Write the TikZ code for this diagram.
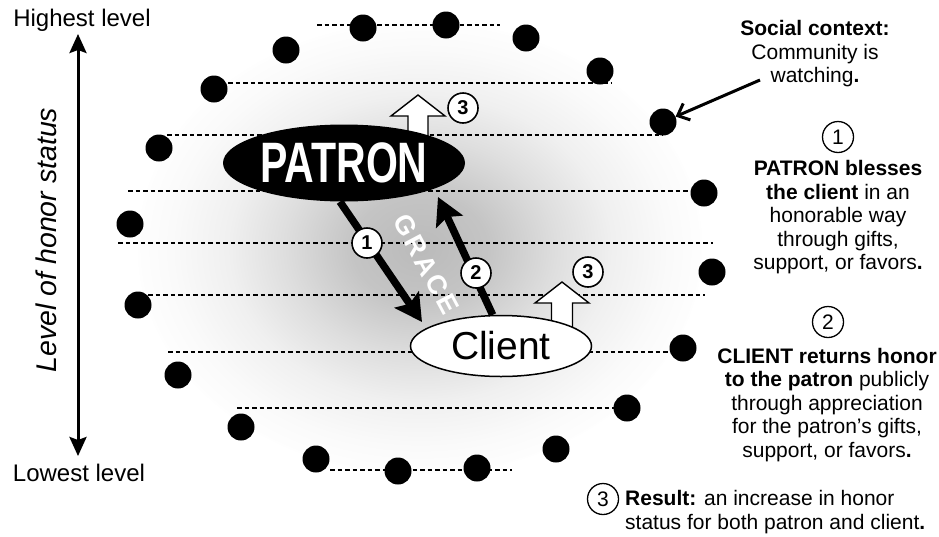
\documentclass[tikz,border=0pt]{standalone}
\usepackage{fontspec}
\setmainfont{Liberation Sans}
\usetikzlibrary{arrows.meta,shapes.geometric}
\pgfdeclareradialshading{halo}{\pgfpoint{0bp}{0bp}}{color(0bp)=(black!27); color(6bp)=(black!23); color(12bp)=(black!13); color(17bp)=(black!6); color(22bp)=(black!2); color(25bp)=(black!0.5); color(50bp)=(black!0.5)}
\begin{document}
\begin{tikzpicture}[x=1pt,y=-1pt,
  dot/.style={circle,fill=black,minimum size=27pt,inner sep=0pt},
  levline/.style={line width=1.4pt,dash pattern=on 4.5pt off 3pt},
  numc/.style={circle,draw=black,line width=1.6pt,fill=white,minimum size=30pt,inner sep=0pt,font=\fontsize{20}{20}\selectfont\bfseries},
  numr/.style={circle,draw=black,line width=1.3pt,fill=white,minimum size=31pt,inner sep=0pt,font=\fontsize{21}{21}\selectfont},
  uparrow/.style={draw=black,line width=1.4pt,fill=white,line join=miter},
  bigarrow/.style={line width=7.5pt,-{Stealth[length=27pt,width=29pt,inset=5pt]}},
  txt/.style={align=center,font=\fontsize{21}{23.5}\selectfont,inner sep=0pt}
]
\useasboundingbox (0,0) rectangle (939,536);
\fill[white] (0,0) rectangle (939,536);
\shade[shading=halo] (420,248) ellipse [x radius=282pt, y radius=226pt];

% level lines
\foreach \y/\a/\b in {25/317/500, 83/228/612, 135/167/663, 191/128/704, 243/118/713, 295/133/705, 352/168/683, 408/237/627, 470/330/512}
  \draw[levline] (\a,\y) -- (\b,\y);

% community dots
\foreach \i/\x/\y in {1/363/28, 2/446/25, 3/526/38, 4/600/71, 5/663/122, 6/704/193, 7/712/272, 8/683/348, 9/627/408, 10/556/449, 11/477/468, 12/398/471, 13/316/459, 14/241/427, 15/178/375, 16/138/305, 17/130/224, 18/159/148, 19/214/89, 20/286/50}
  \node[dot] (d\i) at (\x,\y) {};

% white up arrows (result)
\draw[uparrow] (408,160) -- (408,116) -- (391,116) -- (418,95) -- (445,116) -- (428,116) -- (428,160) -- cycle;
\draw[uparrow] (551.5,340) -- (551.5,303) -- (535,303) -- (562,282) -- (589,303) -- (572.5,303) -- (572.5,340) -- cycle;

% patron and client
\node[ellipse, fill=black, minimum width=242pt, minimum height=77pt, inner sep=0pt, text=white, font=\fontsize{57}{57}\selectfont\bfseries] (patron) at (344,163) {\scalebox{0.72}[1]{PATRON}};
\node[ellipse, draw=black, line width=1.5pt, fill=white, minimum width=181pt, minimum height=61pt, inner sep=0pt, font=\fontsize{39}{39}\selectfont] (client) at (501,346) {Client};

% grace arrows
\coordinate (a1) at (422,322);
\coordinate (a2) at (438,197);
\draw[bigarrow] (patron.-96) -- (a1);
\draw[bigarrow] (client.105) -- (a2);
\node[rotate=-62, text=white, font=\fontsize{27}{27}\selectfont\bfseries, inner sep=0pt] (grace) at (426,264) {G\kern3pt R\kern3pt A\kern3pt C\kern3pt E};

\node[numc] (n1) at (367,243) {1};
\node[numc] (n2) at (476,273) {2};
\node[numc] (n3a) at (463,108) {3};
\node[numc] (n3b) at (588,272) {3};

% left scale
\node[font=\fontsize{24}{24}\selectfont] (hi) at (82,20) {Highest level};
\node[font=\fontsize{24}{24}\selectfont] (lo) at (79,473) {Lowest level};
\coordinate (vt) at (78,34);
\coordinate (vb) at (78,456);
\draw[line width=3pt, {Stealth[length=19pt,width=17pt,inset=3pt]}-{Stealth[length=19pt,width=17pt,inset=3pt]}] (vt) -- (vb);
\node[rotate=90, font=\fontsize{28.5}{28.5}\selectfont\itshape] (lev) at (46,240) {Level of honor status};

% right texts
\node[txt] (soc) at (815,54) {\textbf{Social context:}\\Community is\\watching\textbf{.}};
\coordinate (sc) at (760,80);
\draw[line width=3pt, -{Straight Barb[length=10pt,width=18pt]}] (sc) -- (d5);

\node[numr] (r1) at (838,137) {1};
\node[txt] (b1) at (838,217.5) {\textbf{PATRON blesses}\\\textbf{the client} in an\\honorable way\\through gifts,\\support, or favors\textbf{.}};
\node[numr] (r2) at (828,322) {2};
\node[txt] (b2) at (827,405) {\textbf{CLIENT returns honor}\\\textbf{to the patron} publicly\\through appreciation\\for the patron’s gifts,\\support, or favors\textbf{.}};
\node[numr] (r3) at (603,499) {3};
\node[txt, align=left, anchor=west] (res) at (625,512) {\textbf{Result:} an increase in honor\\status for both patron and client\textbf{.}};
\end{tikzpicture}
\end{document}
